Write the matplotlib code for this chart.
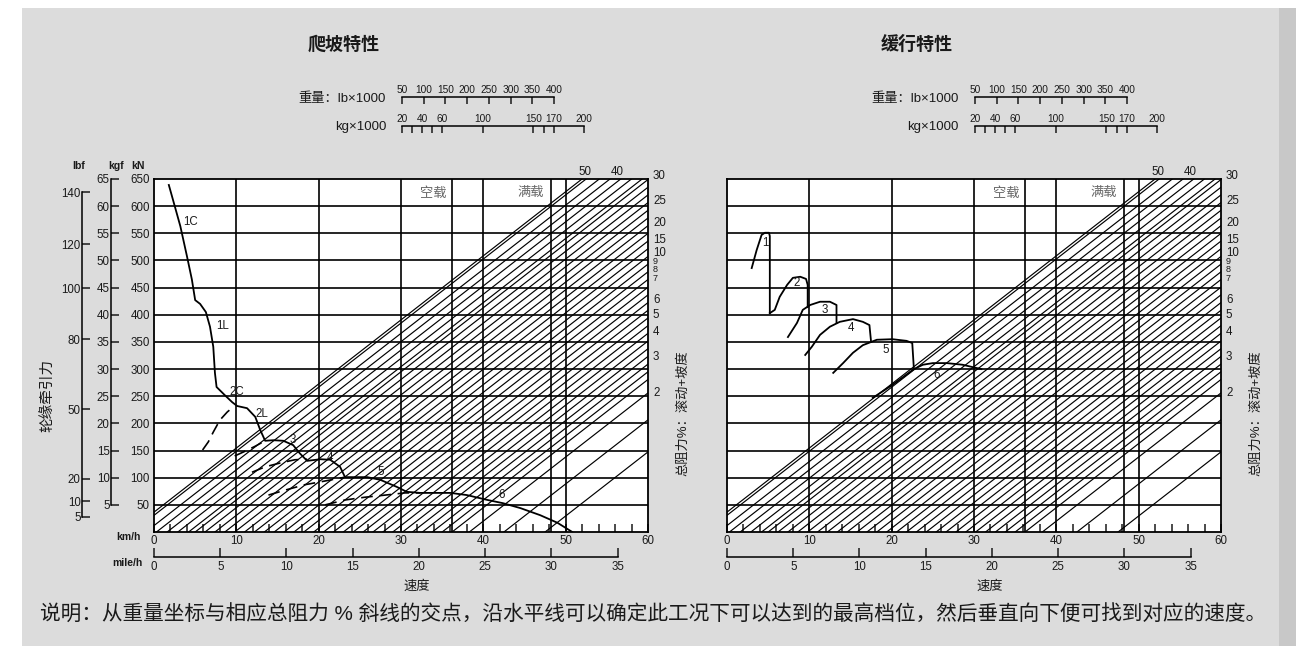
import numpy as np
import matplotlib.pyplot as plt
from matplotlib.patches import Rectangle

plt.rcParams['font.family'] = ['Liberation Sans', 'Noto Sans CJK SC', 'DejaVu Sans']

# ---------------- data ----------------
grid_F = [50, 100, 150, 200, 250, 300, 350, 400, 450, 500, 550, 600]
grid_v = [10, 20, 30, 36.2, 40, 48.2, 50]

# total-resistance lines: km/h where each line meets rimpull 0
hatch_v0 = [-3.1, -2.6, -1.0, 0.3, 1.6, 2.9, 4.2, 5.0, 6.2, 7.4, 8.6,
            9.8, 11.0, 12.2, 13.4, 14.6, 15.8, 17.0, 18.2, 19.4, 20.6, 21.8,
            23.0, 24.2, 25.4, 26.6, 27.8, 29.0, 30.2, 31.4, 32.6, 33.8, 35.0,
            36.2, 38.3, 42.5, 47.5]
hatch_slope = 11.8  # kN per km/h

pct_labels = ['30', '25', '20', '15', '10', '9', '8', '7', '6', '5', '4', '3', '2']
pct_pos = [655, 610, 569, 538, 514, 498, 483, 467, 427, 400, 368, 322, 256]
top_pct_labels = ['50', '40']
top_pct_v = [52.4, 56.3]

kn_ticks = [50, 100, 150, 200, 250, 300, 350, 400, 450, 500, 550, 600, 650]
kgf_labels = ['5', '10', '15', '20', '25', '30', '35', '40', '45', '50', '55', '60', '65']
lbf_labels = ['140', '120', '100', '80', '50', '20', '10', '5']
lbf_pos = [626, 530, 449, 355, 226, 98, 57, 28]

lb_ticks = [50, 100, 150, 200, 250, 300, 350, 400]
kg_ticks = [20, 30, 40, 50, 60, 100, 150, 160, 170, 200]
kg_labeled = [20, 40, 60, 100, 150, 170, 200]
mile_ticks = [0, 5, 10, 15, 20, 25, 30, 35]

# climbing (rimpull) curve, km/h vs kN
climb_v = [1.8, 2.3, 3.2, 4.0, 4.6, 5.0, 5.6, 6.3, 6.8, 7.2, 7.4, 7.6, 8.6, 9.5,
           10.1, 11.3, 12.3, 12.9, 13.5, 14.5, 15.7, 16.9, 17.7, 18.6, 20.2,
           21.4, 22.6, 23.2, 25.9, 27.5, 29.5, 30.7, 32.3, 36.0, 38.0, 40.5,
           42.4, 44.5, 46.9, 49.0, 50.8]
climb_F = [639, 612, 563, 508, 465, 427, 420, 405, 378, 341, 293, 267, 252, 239,
           232, 228, 212, 188, 168, 169, 168, 160, 145, 131, 134,
           133, 120, 101, 101, 96, 83, 74, 72, 72, 68, 59,
           53, 44, 31, 17, 0]
climb_labels = ['1C', '1L', '2C', '2L', '3', '4', '5', '6']
climb_label_v = [4.4, 8.3, 10.1, 13.1, 16.9, 21.4, 27.5, 42.2]
climb_label_F = [571, 380, 258, 218, 169, 136, 110, 68]

# converter-drive (dashed) branches
d2_v = [5.9, 6.6, 7.2, 8.0, 8.9, 9.6]
d2_F = [151, 166, 184, 206, 221, 230]
d3_v = [9.8, 11.1, 12.3, 13.5]
d3_F = [140, 149, 158, 168]
d4_v = [11.9, 13.5, 15.3, 17.1, 18.6]
d4_F = [110, 120, 127, 133, 134]
d5_v = [13.9, 15.9, 18.3, 20.8, 23.2]
d5_F = [68, 77, 87, 94, 101]
d6_v = [20.8, 23.2, 25.6, 28.1, 30.5, 32.3]
d6_F = [50, 59, 64, 68, 72, 72]

# retarding curves, one per gear
r1_v = [3.0, 3.6, 4.2, 4.6, 5.1, 5.2, 5.2]
r1_F = [486, 519, 547, 551, 551, 545, 403]
r2_v = [5.2, 5.8, 6.4, 7.3, 8.0, 8.9, 9.6, 9.8, 9.8]
r2_F = [403, 409, 433, 455, 468, 470, 466, 455, 414]
r3_v = [7.4, 8.5, 9.2, 10.1, 11.3, 12.5, 13.3, 13.3]
r3_F = [359, 385, 409, 418, 424, 424, 418, 385]
r4_v = [9.5, 10.3, 11.3, 12.5, 13.7, 15.3, 16.5, 17.3, 17.5]
r4_F = [326, 341, 363, 378, 387, 392, 387, 381, 350]
r5_v = [12.9, 14.1, 15.3, 16.5, 18.2, 20.1, 21.8, 22.5, 22.7]
r5_F = [293, 311, 330, 344, 354, 355, 352, 348, 300]
r6_v = [17.7, 20.1, 22.7, 23.8, 25.0, 26.7, 28.6, 30.3, 30.9]
r6_F = [247, 271, 300, 308, 311, 311, 308, 302, 300]
retard_labels = ['1', '2', '3', '4', '5', '6']
retard_label_v = [4.6, 8.5, 11.9, 15.1, 19.3, 25.5]
retard_label_F = [532, 458, 409, 375, 335, 289]

note = ('说明：从重量坐标与相应总阻力 % 斜线的交点，沿水平线可以确定此工况下'
        '可以达到的最高档位，然后垂直向下便可找到对应的速度。')

# ---------------- figure ----------------
W, H = 1296, 646
fig = plt.figure(figsize=(W / 100, H / 100), dpi=100)
fig.patch.set_facecolor('white')


def rect(x0, y0, x1, y1):
    return [x0 / W, 1 - y1 / H, (x1 - x0) / W, (y1 - y0) / H]


def ftext(x, y, s, **kw):
    kw.setdefault('va', 'center')
    kw.setdefault('color', '#1a1a1a')
    fig.text(x / W, 1 - y / H, s, **kw)


fig.add_artist(Rectangle((22 / W, 0), (1279 - 22) / W, 1 - 8 / H,
                         transform=fig.transFigure, fc='#dcdcdc', ec='none', zorder=-10))
fig.add_artist(Rectangle((1279 / W, 0), 17 / W, 1 - 8 / H,
                         transform=fig.transFigure, fc='#c8c8c8', ec='none', zorder=-10))

NUM = 8.3
INK = '#1a1a1a'


def weight_scales(x0):
    # scale line is the top spine; ticks hang down from it
    axl = fig.add_axes(rect(x0 + 248, 97, x0 + 400, 105))
    axl.set_xlim(50, 400)
    axk = fig.add_axes(rect(x0 + 248, 126, x0 + 430, 134))
    axk.set_xlim(20, 200)
    for a, ticks in ((axl, lb_ticks), (axk, kg_ticks)):
        a.patch.set_alpha(0)
        for s in ('bottom', 'left', 'right'):
            a.spines[s].set_visible(False)
        a.spines['top'].set_linewidth(1.1)
        a.set_yticks([])
        a.set_xticks(ticks)
        a.tick_params(axis='x', direction='in', length=5, width=1.1,
                      bottom=False, labelbottom=False, top=True, labeltop=True,
                      pad=1.5, labelsize=7.3, colors=INK)
    axl.set_xticklabels([str(t) for t in lb_ticks])
    axk.set_xticklabels([str(t) if t in kg_labeled else '' for t in kg_ticks])
    ftext(x0 + 232, 99, '重量：lb×1000', ha='right', fontsize=9.5)
    ftext(x0 + 232, 127, 'kg×1000', ha='right', fontsize=9.5)


def chart(x0, title, left_axis):
    x1 = x0 + 494
    ax = fig.add_axes(rect(x0, 179, x1, 532))
    ax.set_facecolor('white')
    for F in grid_F:
        ax.axhline(F, color='k', lw=1.2)
    for v in grid_v:
        ax.axvline(v, color='k', lw=1.2)
    for v0 in hatch_v0:
        ax.plot([v0, v0 + 650 / hatch_slope], [0, 650], color='k', lw=0.85)
    for s in ax.spines.values():
        s.set_linewidth(1.3)
    ax.set_xlim(0, 60)
    ax.set_ylim(0, 650)
    ax.set_xticks(range(0, 61, 10))
    ax.set_xticks(range(0, 61, 2), minor=True)
    ax.tick_params(axis='x', which='both', direction='in', length=5.8, width=1.1,
                   pad=2, labelsize=NUM, colors=INK)
    if left_axis:
        ax.set_yticks(kn_ticks)
        ax.tick_params(axis='y', length=0, pad=3, labelsize=NUM, colors=INK)
    else:
        ax.set_yticks([])
    yt = ax.get_yaxis_transform()
    for lbl, F in zip(pct_labels, pct_pos):
        size = 6.5 if lbl in ('9', '8', '7') else NUM
        ax.text(1.01, F, lbl, transform=yt, va='center', ha='left', fontsize=size,
                color=INK, clip_on=False)
    for lbl, v in zip(top_pct_labels, top_pct_v):
        ax.text(v, 663, lbl, ha='center', va='center', fontsize=NUM, color=INK,
                clip_on=False)
    ax.text(35.5, 624, '空载', ha='right', va='center', fontsize=9.5, color='#666666')
    ax.text(47.4, 624, '满载', ha='right', va='center', fontsize=9.5, color='#666666')

    # mile/h scale
    axm = fig.add_axes(rect(x0, 556, x1, 557))
    axm.patch.set_alpha(0)
    axm.set_xlim(0, 60 / 1.609)
    for s in ('top', 'left', 'right'):
        axm.spines[s].set_visible(False)
    axm.spines['bottom'].set_bounds(0, 35)
    axm.spines['bottom'].set_linewidth(1.1)
    axm.set_yticks([])
    axm.set_xticks(mile_ticks)
    axm.tick_params(axis='x', direction='in', length=6.5, width=1.1, pad=3,
                    labelsize=NUM, colors=INK)

    ftext(x0 + 190, 45, title, ha='center', fontsize=13, fontweight='bold')
    ftext(x0 + 263, 587, '速度', ha='center', fontsize=9.5)
    ftext(x1 + 35, 413, '总阻力%：滚动+坡度', ha='center', fontsize=9.5, rotation=90)
    weight_scales(x0)
    return ax


axL = chart(154, '爬坡特性', True)
axR = chart(727, '缓行特性', False)

# climbing curves
axL.plot(climb_v, climb_F, color='k', lw=1.3)
for dv, dF in ((d2_v, d2_F), (d3_v, d3_F), (d4_v, d4_F), (d5_v, d5_F), (d6_v, d6_F)):
    axL.plot(dv, dF, color='k', lw=1.2, dashes=(7, 4))
for lbl, v, F in zip(climb_labels, climb_label_v, climb_label_F):
    axL.text(v, F, lbl, ha='center', va='center', fontsize=NUM, color=INK)

# retarding curves
for rv, rF in ((r1_v, r1_F), (r2_v, r2_F), (r3_v, r3_F), (r4_v, r4_F),
               (r5_v, r5_F), (r6_v, r6_F)):
    axR.plot(rv, rF, color='k', lw=1.3)
for lbl, v, F in zip(retard_labels, retard_label_v, retard_label_F):
    axR.text(v, F, lbl, ha='center', va='center', fontsize=NUM, color=INK)

# left force scales: lbf and kgf share the kN axis
axb = fig.add_axes(rect(82, 179, 83, 532))
axb.set_ylim(0, 650)
axb.set_yticks(lbf_pos)
axb.set_yticklabels(lbf_labels)
axb.spines['left'].set_bounds(28, 626)
axg = fig.add_axes(rect(111, 179, 112, 532))
axg.set_ylim(0, 650)
axg.set_yticks(kn_ticks)
axg.set_yticklabels(kgf_labels)
axg.spines['left'].set_bounds(50, 650)
for a in (axb, axg):
    a.patch.set_alpha(0)
    for s in ('top', 'bottom', 'right'):
        a.spines[s].set_visible(False)
    a.spines['left'].set_linewidth(1.1)
    a.set_xticks([])
    a.tick_params(axis='y', direction='in', length=5.5, width=1.1, pad=1,
                  labelsize=NUM, colors=INK)

ftext(79, 166, 'lbf', ha='center', fontsize=7.5, fontweight='bold')
ftext(116, 166, 'kgf', ha='center', fontsize=7.5, fontweight='bold')
ftext(138, 166, 'kN', ha='center', fontsize=7.5, fontweight='bold')
ftext(128, 537, 'km/h', ha='center', fontsize=7.5, fontweight='bold')
ftext(127, 563, 'mile/h', ha='center', fontsize=7.5, fontweight='bold')
ftext(48, 395, '轮缘牵引力', ha='center', fontsize=10.5, rotation=90)

ftext(40, 615, note, ha='left', fontsize=14.9)

fig.savefig('out.png', dpi=100, facecolor=fig.get_facecolor())
